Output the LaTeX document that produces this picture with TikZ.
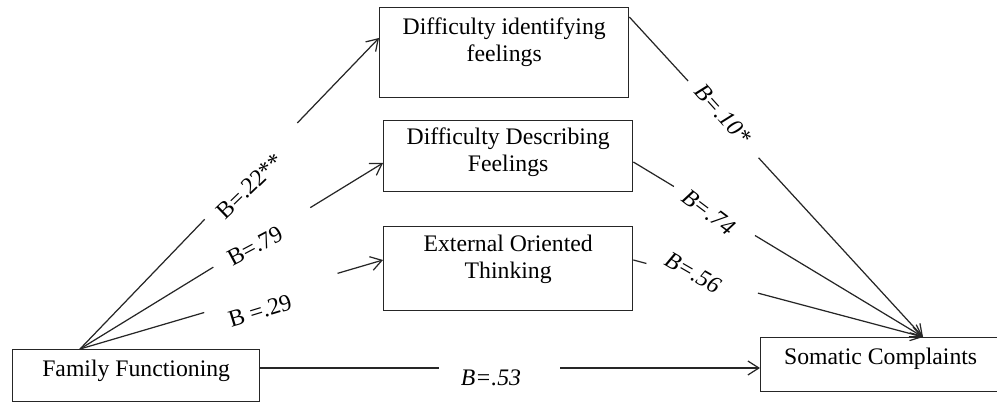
\documentclass[tikz,border=0pt]{standalone}
\usepackage{fontspec}
\setmainfont{Liberation Serif}
\usetikzlibrary{arrows.meta}
\tikzset{
    var-box/.style = {draw=black!85, line width=0.8pt, rectangle, inner sep=0pt, anchor=north west},
    path-line/.style = {draw=black!85, line width=0.7pt},
    path-arrow/.style = {path-line, -{Straight Barb[length=2.2mm, width=2.8mm]}},
    coef/.style = {font=\fontsize{13.5}{15}\selectfont, inner sep=1pt},
}
% box text: width, height, top gap, text
\newcommand{\boxtext}[4]{\begin{minipage}[t][#2][t]{#1}\centering
    \fontsize{13.5}{15.5}\selectfont\vspace*{#3}#4\end{minipage}}

\begin{document}
\begin{tikzpicture}[x=0.02cm, y=-0.02cm]
\useasboundingbox (0,0) rectangle (997,402);

% variables
\node [var-box] (ff) at (12,349) {\boxtext{4.94cm}{1.04cm}{0.2cm}{Family Functioning}};
\node [var-box] (dif) at (379,7) {\boxtext{4.98cm}{1.8cm}{0.2cm}{Difficulty identifying\\feelings}};
\node [var-box] (ddf) at (383,120) {\boxtext{4.98cm}{1.42cm}{0.14cm}{Difficulty Describing\\Feelings}};
\node [var-box] (eot) at (383,226) {\boxtext{4.98cm}{1.68cm}{0.16cm}{External Oriented\\Thinking}};
\node [var-box] (sc) at (760,337) {\boxtext{5.3cm}{1.08cm}{0.2cm}{\hspace*{-0.5cm}Somatic Complaints}};

% connector ends
\coordinate (ff-out) at (80,349);
\coordinate (ff-right) at (ff.east |- 0,368);
\coordinate (dif-in) at (dif.west |- 0,38);
\coordinate (ddf-in) at (ddf.west |- 0,163);
\coordinate (eot-in) at (eot.west |- 0,260);
\coordinate (dif-out) at (dif.east |- 0,17);
\coordinate (ddf-out) at (ddf.east |- 0,162);
\coordinate (eot-out) at (eot.east |- 0,260);
\coordinate (sc-in) at (sc.north -| 923,0);
\coordinate (sc-left) at (sc.west |- 0,368);

% split points round the labels
\path (ff-out) -- (dif-in) coordinate[pos=0.417] (a1) coordinate[pos=0.727] (a2);
\path (ff-out) -- (ddf-in) coordinate[pos=0.44] (b1) coordinate[pos=0.76] (b2);
\path (ff-out) -- (eot-in) coordinate[pos=0.41] (c1) coordinate[pos=0.85] (c2);
\path (dif-out) -- (sc-in) coordinate[pos=0.20] (d1) coordinate[pos=0.44] (d2);
\path (ddf-out) -- (sc-in) coordinate[pos=0.14] (e1) coordinate[pos=0.42] (e2);
\path (eot-out) -- (sc-in) coordinate[pos=0.045] (f1) coordinate[pos=0.43] (f2);
\path (ff-right) -- (sc-left) coordinate[pos=0.357] (g1) coordinate[pos=0.60] (g2);

\draw [path-line] (ff-out) -- (a1);
\draw [path-arrow] (a2) -- (dif-in);
\draw [path-line] (ff-out) -- (b1);
\draw [path-arrow] (b2) -- (ddf-in);
\draw [path-line] (ff-out) -- (c1);
\draw [path-arrow] (c2) -- (eot-in);
\draw [path-line] (dif-out) -- (d1);
\draw [path-arrow] (d2) -- (sc-in);
\draw [path-line] (ddf-out) -- (e1);
\draw [path-arrow] (e2) -- (sc-in);
\draw [path-line] (eot-out) -- (f1);
\draw [path-arrow] (f2) -- (sc-in);
\draw [path-line] (ff-right) -- (g1);
\draw [path-arrow] (g2) -- (sc-left);

% coefficients
\node [coef, rotate=44] (lab-dif) at (250,186) {B=.22**};
\node [coef, rotate=28] (lab-ddf) at (255,246) {B=.79};
\node [coef, rotate=17] (lab-eot) at (260,311) {B =.29};
\node [coef, rotate=-48] (lab-dif-sc) at (723,114) {\textit{B=.10*}};
\node [coef, rotate=-37] (lab-ddf-sc) at (709,212) {\textit{B=.74}};
\node [coef, rotate=-30] (lab-eot-sc) at (693,273) {\textit{B=.56}};
\node [coef] (lab-ff-sc) at (491,378) {\textit{B=.53}};
\end{tikzpicture}
\end{document}
